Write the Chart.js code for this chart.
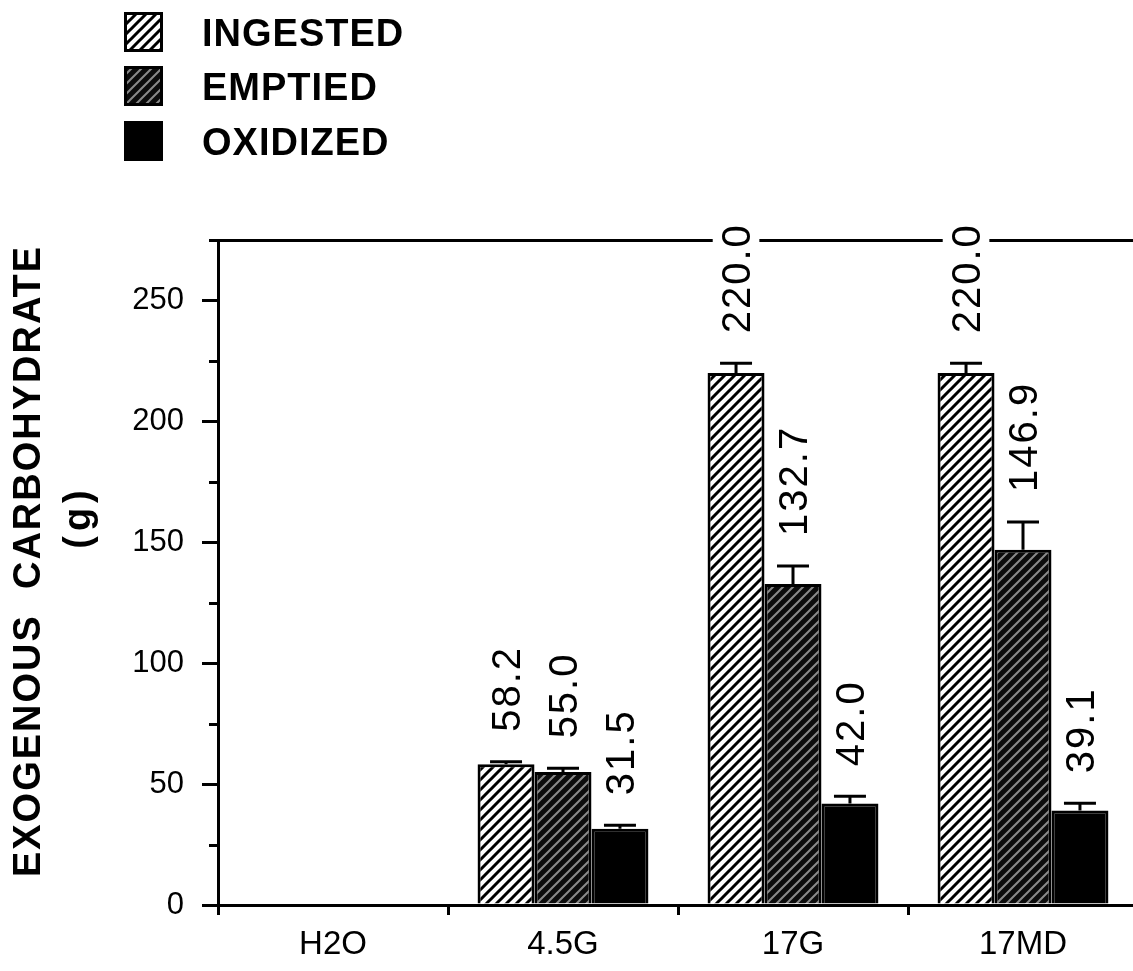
<!DOCTYPE html>
<html><head><meta charset="utf-8">
<script src="https://cdn.jsdelivr.net/npm/chart.js@4.4.0/dist/chart.umd.min.js"></script>
<style>
html,body{margin:0;padding:0;background:#fff;overflow:hidden;width:1133px;height:971px;}
#wrap{position:relative;width:1150px;height:971px;}
canvas{display:block;}
</style></head><body>
<div id="wrap"><canvas id="c" width="1150" height="971"></canvas></div>
<script>
const categories = ['H2O', '4.5G', '17G', '17MD'];
const seriesNames = ['INGESTED', 'EMPTIED', 'OXIDIZED'];
const ingested = [null, 58.2, 220.0, 220.0];
const emptied = [null, 55.0, 132.7, 146.9];
const oxidized = [null, 31.5, 42.0, 39.1];
const ingestedErr = [null, 1.0, 4.0, 4.0];
const emptiedErr = [null, 1.5, 7.5, 11.5];
const oxidizedErr = [null, 1.5, 3.0, 3.0];
const yTicks = [0, 50, 100, 150, 200, 250];
const yMinorTicks = [25, 75, 125, 175, 225, 275];
const yMax = 275;
const yTitle = 'EXOGENOUS  CARBOHYDRATE';
const yUnit = '(g)';

const FONT = '"Liberation Sans", Arial, Helvetica, sans-serif';
const canvas = document.getElementById('c');
const mainCtx = canvas.getContext('2d');

function hatch(bg, fg, lw) {
  const s = 10;
  const c = document.createElement('canvas'); c.width = s; c.height = s;
  const g = c.getContext('2d');
  g.fillStyle = bg; g.fillRect(0, 0, s, s);
  g.strokeStyle = fg; g.lineWidth = lw;
  g.beginPath();
  g.moveTo(-2, s + 2); g.lineTo(s + 2, -2);
  g.moveTo(-2, 2); g.lineTo(2, -2);
  g.moveTo(s - 2, s + 2); g.lineTo(s + 2, s - 2);
  g.stroke();
  return mainCtx.createPattern(c, 'repeat');
}
const patIngested = hatch('#ffffff', '#000000', 3.0);
const patEmptied = hatch('#0c0c0c', '#8a8a8a', 2.0);
const fillOxidized = '#000000';

const minorTicks = {
  id: 'minorTicks',
  afterDraw(chart) {
    const ctx = chart.ctx, ys = chart.scales.y, left = chart.chartArea.left;
    ctx.save();
    ctx.strokeStyle = '#000'; ctx.lineWidth = 3;
    yMinorTicks.forEach(v => {
      const y = Math.round(ys.getPixelForValue(v)) + 0.5;
      ctx.beginPath(); ctx.moveTo(left - 9, y); ctx.lineTo(left, y); ctx.stroke();
    });
    ctx.restore();
  }
};

const errorBars = {
  id: 'errorBars',
  afterDatasetsDraw(chart) {
    const ctx = chart.ctx, ys = chart.scales.y;
    ctx.save();
    ctx.strokeStyle = '#000'; ctx.lineWidth = 3;
    chart.data.datasets.forEach((ds, i) => {
      const meta = chart.getDatasetMeta(i);
      meta.data.forEach((bar, j) => {
        const v = ds.data[j], e = ds.errors[j];
        if (v == null || !e) return;
        const yTop = ys.getPixelForValue(v + e);
        ctx.beginPath();
        ctx.moveTo(bar.x, bar.y); ctx.lineTo(bar.x, yTop);
        ctx.moveTo(bar.x - 16, yTop); ctx.lineTo(bar.x + 16, yTop);
        ctx.stroke();
      });
    });
    ctx.restore();
  }
};

const valueLabels = {
  id: 'valueLabels',
  afterDraw(chart) {
    const ctx = chart.ctx, ys = chart.scales.y;
    const size = 40, capH = size * 0.716;
    ctx.save();
    ctx.font = size + 'px ' + FONT;
    ctx.letterSpacing = '2px';
    chart.data.datasets.forEach((ds, i) => {
      const meta = chart.getDatasetMeta(i);
      meta.data.forEach((bar, j) => {
        const v = ds.data[j];
        if (v == null) return;
        const e = ds.errors[j] || 0;
        const top = ys.getPixelForValue(v + e);
        const txt = v.toFixed(1);
        const w = ctx.measureText(txt).width;
        ctx.save();
        ctx.translate(bar.x, top - 30);
        ctx.rotate(-Math.PI / 2);
        ctx.fillStyle = '#fff';
        ctx.fillRect(-2, -capH / 2 - 9, w + 2, capH + 18);
        ctx.fillStyle = '#000';
        ctx.textAlign = 'left'; ctx.textBaseline = 'alphabetic';
        ctx.fillText(txt, 0, capH / 2);
        ctx.restore();
      });
    });
    ctx.restore();
  }
};

const yTitlePlugin = {
  id: 'yTitlePlugin',
  afterDraw(chart) {
    const ctx = chart.ctx;
    ctx.save();
    ctx.fillStyle = '#000';
    ctx.font = 'bold 38px ' + FONT;
    ctx.letterSpacing = '2px';
    ctx.textAlign = 'center'; ctx.textBaseline = 'middle';
    ctx.save(); ctx.translate(30, 561); ctx.rotate(-Math.PI / 2);
    ctx.fillText(yTitle, 0, 0); ctx.restore();
    ctx.save(); ctx.translate(80, 517); ctx.rotate(-Math.PI / 2);
    ctx.letterSpacing = '5px';
    ctx.fillText(yUnit, 0, 0); ctx.restore();
    ctx.restore();
  }
};

const legendPlugin = {
  id: 'legendPlugin',
  afterDraw(chart) {
    const ctx = chart.ctx;
    const rows = [32, 86, 141];
    ctx.save();
    ctx.font = 'bold 38px ' + FONT;
    ctx.letterSpacing = '1px';
    ctx.textAlign = 'left'; ctx.textBaseline = 'alphabetic';
    chart.data.datasets.forEach((ds, i) => {
      const cy = rows[i];
      ctx.fillStyle = ds.backgroundColor;
      ctx.fillRect(124, cy - 20, 39, 40);
      ctx.strokeStyle = '#000'; ctx.lineWidth = 3;
      ctx.strokeRect(125.5, cy - 18.5, 36, 37);
      ctx.fillStyle = '#000';
      ctx.fillText(ds.label, 202, cy + 38 * 0.358);
    });
    ctx.restore();
  }
};

new Chart(canvas, {
  type: 'bar',
  data: {
    labels: categories,
    datasets: [
      { label: seriesNames[0], data: ingested, errors: ingestedErr, backgroundColor: patIngested, borderColor: '#000', borderWidth: 3, xAxisID: 'x', yAxisID: 'y' },
      { label: seriesNames[1], data: emptied, errors: emptiedErr, backgroundColor: patEmptied, borderColor: '#000', borderWidth: 3, xAxisID: 'x', yAxisID: 'y' },
      { label: seriesNames[2], data: oxidized, errors: oxidizedErr, backgroundColor: fillOxidized, borderColor: '#000', borderWidth: 3, xAxisID: 'x', yAxisID: 'y' }
    ]
  },
  options: {
    responsive: false,
    animation: false,
    devicePixelRatio: 1,
    barPercentage: 1.0,
    categoryPercentage: 0.743,
    layout: { padding: { top: 240, left: 0, right: 12, bottom: 0 } },
    plugins: { legend: { display: false }, tooltip: { enabled: false }, title: { display: false } },
    scales: {
      x: {
        type: 'category', position: 'bottom', offset: true,
        grid: { display: true, drawOnChartArea: false, drawTicks: true, tickLength: 10, offset: true, color: '#000', lineWidth: 3 },
        border: { display: true, color: '#000', width: 3 },
        ticks: { color: '#000', font: { family: FONT, size: 33 }, padding: 10, maxRotation: 0 },
        afterFit: s => { s.height = 66; }
      },
      xTop: {
        type: 'category', position: 'top', offset: true,
        grid: { display: true, drawOnChartArea: false, drawTicks: false },
        border: { display: true, color: '#000', width: 3 },
        ticks: { display: false },
        afterFit: s => { s.height = 0; }
      },
      y: {
        type: 'linear', position: 'left', min: 0, max: yMax,
        afterBuildTicks: s => { s.ticks = yTicks.map(v => ({ value: v })); },
        grid: { display: true, drawOnChartArea: false, drawTicks: true, tickLength: 16, color: '#000', lineWidth: 3 },
        border: { display: true, color: '#000', width: 3 },
        ticks: { color: '#000', font: { family: FONT, size: 31 }, padding: 18 },
        afterFit: s => { s.width = 218; }
      }
    }
  },
  plugins: [errorBars, minorTicks, valueLabels, yTitlePlugin, legendPlugin]
});
</script>
</body></html>
